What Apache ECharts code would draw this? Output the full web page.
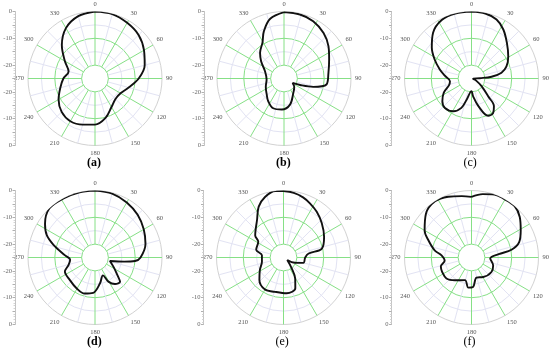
<!DOCTYPE html>
<html><head><meta charset="utf-8">
<script src="https://cdn.jsdelivr.net/npm/echarts@6/dist/echarts.min.js"></script>
<style>html,body{margin:0;padding:0;background:#fff}#c{width:550px;height:349px}</style>
</head><body><div id="c"></div>
<script>
// ---- data (dB vs angle in degrees, clockwise from top) ----
const panelLabels = ['(a)', '(b)', '(c)', '(d)', '(e)', '(f)'];
const angleTickLabels = ['0','30','60','90','120','150','180','210','240','270','300','330'];
const radialTickLabels = ['0','-10','-20'];

const anglesA = [0,15,30,45,60,75,90,105,120,135,150,165,180,195,210,225,240,255,270,285,300,315,330,345];
const valuesA = [0,-0.1,-1,-2,-3.9,-5.8,-8.7,-12,-14,-14.2,-12.7,-9.8,-7.8,-7.2,-6.6,-7.4,-9.3,-11.6,-13.2,-14.8,-12,-7.5,-3.3,-0.9];

const anglesB = [0,14,27,41,54,67,83,98,106,112,117,130,147,167,184,200,215,227,245,267,291,307,317,329,337,347];
const valuesB = [-0.2,-0.4,-1,-2.5,-4.5,-6.7,-8.3,-9,-13.7,-18.5,-21.4,-20,-18.6,-15,-13.4,-13.2,-14.7,-16.2,-17.5,-18.5,-17.4,-14.3,-11.9,-9.4,-5.8,-2.1];

const anglesC = [0,12,23,33,45,59,71,79,85,88,95,110,127,137,141,148,156,166,175,180,193,199,209,222,232,243,253,263,276,286,297,308,320,333,346];
const valuesC = [0,-0.2,-1.1,-3.2,-6.3,-9,-11.2,-13.6,-17.5,-21.9,-24.4,-23.5,-20.3,-15.9,-11.7,-9.8,-9.8,-14.4,-18.4,-20.3,-16.9,-13.4,-11,-10.2,-11.2,-13.4,-16.2,-16.9,-15,-12.7,-9.6,-6.2,-2.7,-0.5,0];

const anglesD = [0,15,30,45,60,75,90,95,98,103,118,130,134,143,151,156,169,183,196,211,228,245,254,265,274,287,295,304,317,332,346];
const valuesD = [0,-0.3,-1.3,-2.5,-4,-5.5,-8,-10,-14,-19.3,-17,-13.7,-12,-12.6,-14.7,-17.7,-15.2,-11.8,-11,-11.6,-12.4,-12.6,-14.7,-15.7,-13.8,-8.8,-5.1,-2.5,0,0,0];

const anglesE = [0,9,18,26,36,48,63,77,81,90,105,115,124,143,151,159,175,194,210,227,242,259,276,286,302,308,325,334,343,353];
const valuesE = [-0.2,-0.6,-1.4,-2.5,-3.9,-5.8,-8,-10.3,-15.5,-16.9,-17.3,-20.3,-23.3,-19.9,-16,-12.7,-11.6,-11.8,-11.2,-12.7,-15,-16.8,-16.9,-14.4,-13.9,-11.6,-7.8,-3.9,-1.4,0];

const anglesF = [0,10,20,29,40,50,61,72,79,83,93,110,126,149,166,177,186,196,216,230,244,254,263,274,281,292,300,314,327,339,351];
const valuesF = [-2.4,-1,0,0,0,-1.5,-4,-6.3,-9.8,-14.8,-18,-16.4,-15.8,-16.5,-17.3,-14,-13.7,-16.2,-14.5,-12.8,-12.8,-13.1,-14.9,-13.8,-11,-7.6,-4.8,-1.4,0,-0.7,-1.8];

const panelAngles = [anglesA, anglesB, anglesC, anglesD, anglesE, anglesF];
const panelValues = [valuesA, valuesB, valuesC, valuesD, valuesE, valuesF];

// ---- layout ----
const centers = [[95,78.5],[284,78.5],[471.5,78.5],[95,257.5],[283.5,257.5],[471.5,257.5]];
const R = 67;
const RMIN = -25, RHOLE = -20, RMAX = 0;
const rHole = R * (RHOLE - RMIN) / (RMAX - RMIN);
const GREEN = '#86e086', LAV = '#e2e3f3', GRAY = '#d2d2d2', NONE = 'rgba(0,0,0,0)';
const FONT = 'Liberation Serif';

const polar = [], angleAxis = [], radiusAxis = [], series = [];
const grid = [], xAxis = [], yAxis = [], title = [];
const hidden = { axisLine: { show: false }, axisTick: { show: false }, axisLabel: { show: false } };

centers.forEach((c, i) => {
  const [cx, cy] = c;
  const p0 = polar.length;
  // minor grid polar (lavender, the in-between 15 deg spokes and -15/-5 dB rings)
  polar.push({ center: [cx, cy], radius: [rHole, R] });
  angleAxis.push(Object.assign({
    polarIndex: p0, type: 'value', min: 0, max: 360, interval: 15, startAngle: 90, clockwise: true,
    splitLine: { show: true, lineStyle: { color: [NONE, LAV], width: 1 } }
  }, hidden));
  radiusAxis.push(Object.assign({
    polarIndex: p0, type: 'value', min: RHOLE, max: RMAX, interval: 5,
    splitLine: { show: true, lineStyle: { color: [NONE, LAV, NONE, LAV, NONE], width: 1 } }
  }, hidden));
  // major grid polar (green, every 30 deg / 10 dB), carries angle labels
  polar.push({ center: [cx, cy], radius: [rHole, R] });
  angleAxis.push({
    polarIndex: p0 + 1, type: 'value', min: 0, max: 360, interval: 30, startAngle: 90, clockwise: true,
    axisLine: { show: false }, axisTick: { show: false },
    axisLabel: { margin: 4, fontFamily: FONT, fontSize: 6.5, color: '#555',
      formatter: v => (v % 30 === 0 && v < 360) ? angleTickLabels[v/30] : '' },
    splitLine: { show: true, lineStyle: { color: GREEN, width: 1 } }
  });
  radiusAxis.push(Object.assign({
    polarIndex: p0 + 1, type: 'value', min: RHOLE, max: RMAX, interval: 10,
    splitLine: { show: true, lineStyle: { color: [GREEN, GREEN, GRAY], width: 1 } }
  }, hidden));
  // data polar
  polar.push({ center: [cx, cy], radius: [0, R] });
  angleAxis.push(Object.assign({
    polarIndex: p0 + 2, type: 'value', min: 0, max: 360, startAngle: 90, clockwise: true,
    splitLine: { show: false }
  }, hidden));
  radiusAxis.push(Object.assign({
    polarIndex: p0 + 2, type: 'value', min: RMIN, max: RMAX, splitLine: { show: false }
  }, hidden));
  const ang = panelAngles[i], val = panelValues[i];
  const data = ang.map((a, k) => [val[k], a]);
  data.push([val[0], 360]);
  series.push({
    type: 'line', coordinateSystem: 'polar', polarIndex: p0 + 2, data,
    smooth: 0.35, showSymbol: false, symbol: 'none', z: 5,
    lineStyle: { color: '#111', width: 1.9 }, silent: true, animation: false
  });
  // left radial scale: upper and lower halves
  const axLeft = cx - 80;
  [0, 1].forEach(h => {
    const gi = grid.length;
    grid.push({ left: axLeft, width: 1, top: h === 0 ? cy - R : cy, height: R });
    xAxis.push({ gridIndex: gi, type: 'value', show: false, min: 0, max: 1 });
    yAxis.push({
      gridIndex: gi, type: 'value', min: RMIN, max: RMAX, interval: 5, inverse: h === 1, position: 'left',
      axisLine: { show: true, lineStyle: { color: '#c4c4c4', width: 1 } },
      axisTick: { show: true, length: 2.5, lineStyle: { color: '#b0b0b0' } },
      minorTick: { show: true, splitNumber: 5, length: 1.5, lineStyle: { color: '#d4d4d4' } },
      axisLabel: { customValues: [0, -10, -20], margin: 3, fontFamily: FONT, fontSize: 6.5, color: '#666',
        formatter: v => radialTickLabels[Math.round(-v/10)] },
      splitLine: { show: false }
    });
  });
  title.push({
    text: panelLabels[i], left: cx - 8, top: cy + 78, padding: 0,
    textStyle: { fontFamily: FONT, fontSize: 12, fontWeight: (i === 0 || i === 1 || i === 3) ? 'bold' : 'normal', color: '#000' }
  });
});

const chart = echarts.init(document.getElementById('c'), null, { renderer: 'canvas' });
chart.setOption({
  animation: false, backgroundColor: '#fff',
  title, polar, angleAxis, radiusAxis, grid, xAxis, yAxis, series
});
</script></body></html>
